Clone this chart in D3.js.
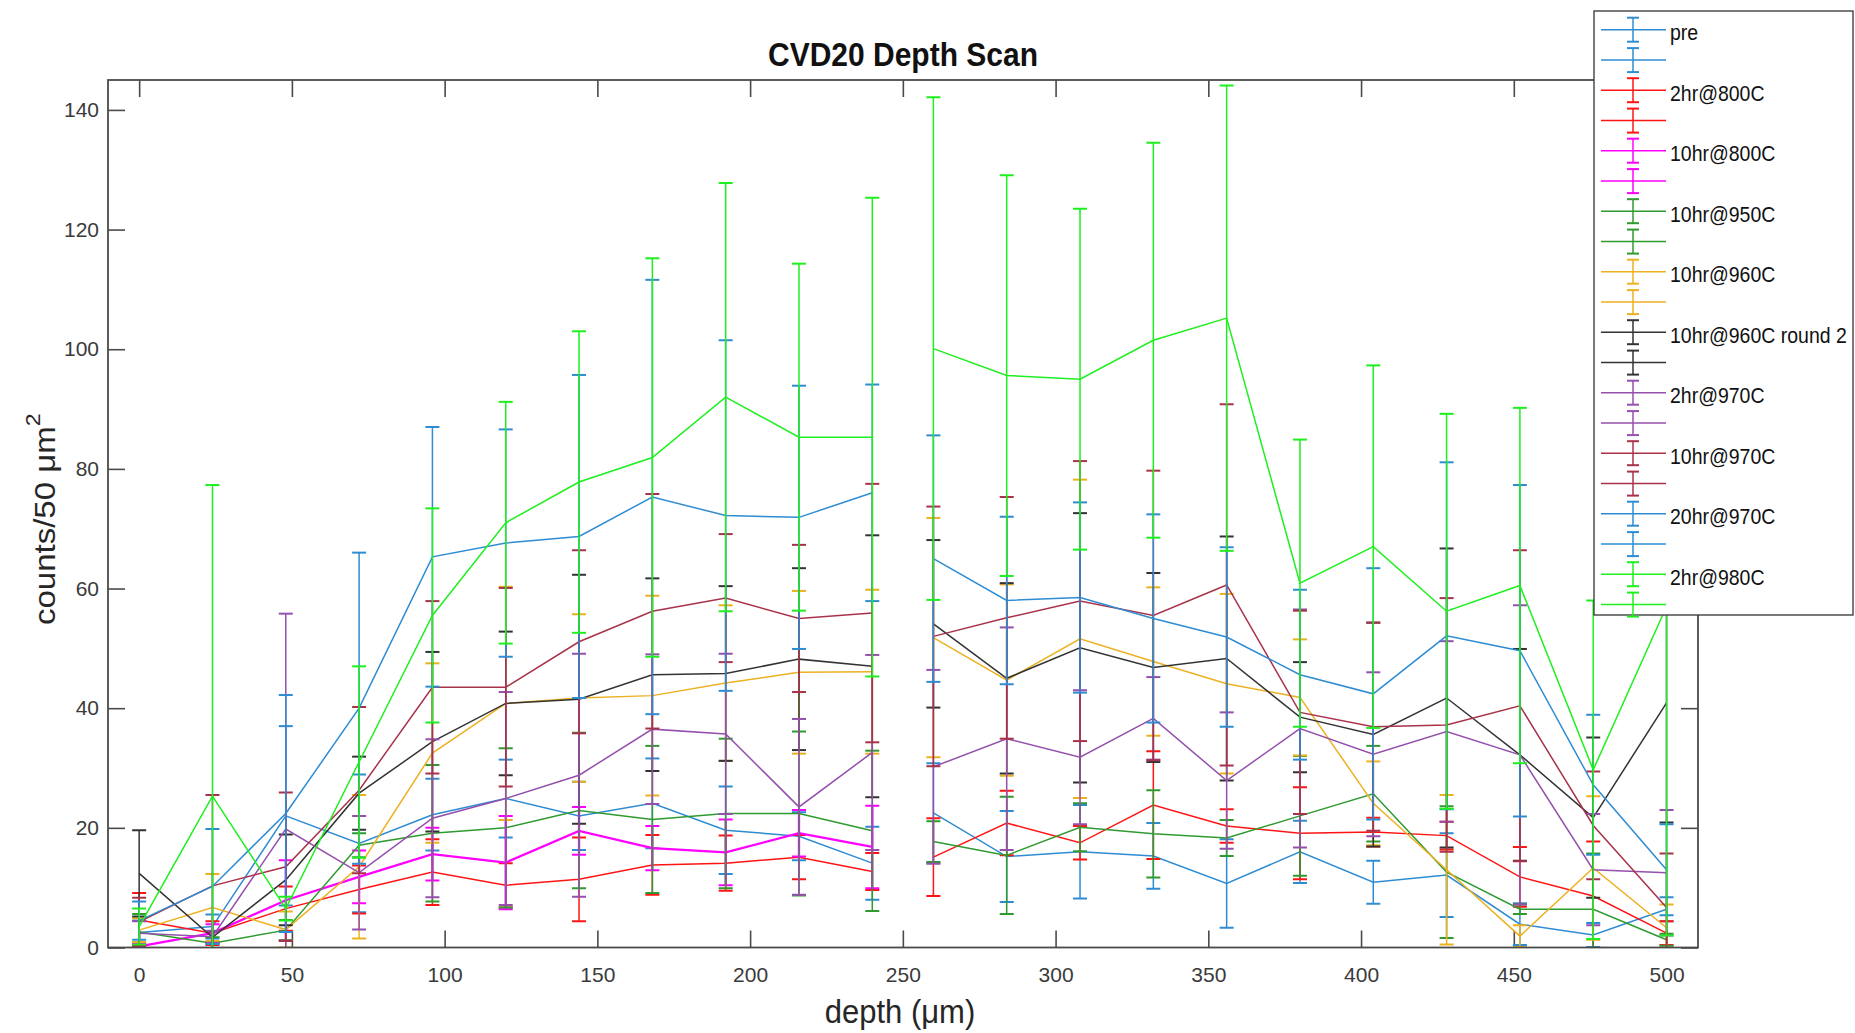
<!DOCTYPE html>
<html>
<head>
<meta charset="utf-8">
<script src="https://cdn.jsdelivr.net/npm/d3@7/dist/d3.min.js"></script>
<style>
  body { margin: 0; background: #fff; }
  svg { display: block; font-family: "Liberation Sans", Arial, sans-serif; }
</style>
</head>
<body>
<div class="chart"></div>
<script>
// depth positions (um); 250 is a gap (NaN in the source data)
var depth = [0, 24, 48, 72, 96, 120, 144, 168, 192, 216, 240, 250, 260, 284, 308, 332, 356, 380, 404, 428, 452, 476, 500];

var seriesNames = ["pre", "2hr@800C", "10hr@800C", "10hr@950C", "10hr@960C", "10hr@960C round 2",
  "2hr@970C", "10hr@970C", "20hr@970C", "2hr@980C"];
var seriesColors = ["#2e8cd3", "#ff1414", "#ff00ff", "#2f9a2f", "#edb120", "#333333",
  "#9450ac", "#a8324a", "#2e8cd3", "#1eef1e"];

var preMean = [2.5, 3.5, 22, 17.4, 22.2, 24.9, 22, 24.1, 19.6, 18.6, 14.1, null, 22.5, 15.2, 16, 15.3, 10.7, 16, 10.9, 12.1, 3.9, 2.1, 6.4];
var preErr = [2, 2, 15, 11.5, 6, 6.5, 5.7, 7.5, 7.3, 4, 6.1, null, 8.3, 7.6, 7.8, 5.5, 7.4, 5.2, 3.6, 7, 3.5, 2, 2];

var h2c800Mean = [4.6, 2.4, 6.5, 9.7, 12.6, 10.4, 11.4, 13.8, 14.1, 15.1, 12.7, null, 15.1, 20.8, 17.5, 23.8, 20.3, 19.1, 19.3, 18.7, 11.8, 8.6, 2.4];
var h2c800Err = [4.5, 2, 3.7, 4, 5.5, 3.7, 7, 5, 4.6, 3.7, 3.1, null, 6.5, 5.4, 2.8, 9, 2.8, 7.7, 2.4, 2.3, 5, 9.1, 2];

var h10c800Mean = [0.2, 2.4, 7.9, 11.8, 15.6, 14.2, 19.5, 16.6, 15.9, 19.1, 16.8, null, null, null, null, null, null, null, null, null, null, null, null];
var h10c800Err = [0.5, 1.5, 6.7, 4.4, 4.4, 7.8, 4, 3.7, 5.5, 3.9, 6.9, null, null, null, null, null, null, null, null, null, null, null, null];

var h10c950Mean = [2.6, 0.7, 2.9, 17.1, 19.1, 20, 22.9, 21.4, 22.4, 22.4, 19.5, null, 17.7, 15.4, 20.1, 19, 18.3, 22, 25.7, 12.6, 6.4, 6.4, 1.3];
var h10c950Err = [3, 1, 1.7, 2, 11.4, 13.3, 13, 12.3, 12.5, 13.7, 13.4, null, 3.4, 9.8, 4, 7.3, 3, 10, 8, 11, 0.8, 9.3, 1];

var h10c960Mean = [2.9, 6.7, 3, 13.5, 32.5, 40.8, 41.7, 42.1, 44.2, 46, 46.1, null, 51.8, 44.7, 51.6, 47.8, 44.1, 41.8, 24.1, 13, 1.9, 13.3, 3.3];
var h10c960Err = [2, 5.6, 3, 12, 15, 19.5, 14, 16.7, 13, 13.6, 13.7, null, 20, 16, 26.6, 12.4, 15, 9.7, 7, 12.5, 1.8, 12, 3.9];

var round2Mean = [12.4, 1.7, 11.3, 25.8, 34.4, 40.8, 41.5, 45.6, 45.8, 48.2, 47, null, 54.1, 45, 50.1, 46.8, 48.3, 38.5, 35.6, 41.7, 32.2, 21.7, 40.9];
var round2Err = [7.2, 1, 7.6, 6.1, 15, 12, 20.8, 16.1, 14.6, 15.2, 21.9, null, 14, 15.9, 22.5, 15.8, 20.4, 9.2, 18.7, 25, 17.7, 13.4, 20];

var h2c970Mean = [2.4, 1.8, 19.8, 12.5, 21.6, 24.9, 28.8, 36.5, 35.7, 23.5, 32.6, null, 30.2, 34.9, 31.8, 38.3, 27.9, 36.6, 32.3, 36.1, 32.2, 13, 12.5];
var h2c970Err = [2, 1, 36, 9.5, 13.2, 17.8, 20.3, 12.5, 13.4, 14.7, 16.3, null, 16.2, 18.6, 11.2, 6.9, 11.4, 19.9, 13.7, 15.1, 25, 9.3, 10.5];

var h10c970Mean = [4.3, 10.3, 13.5, 26.3, 43.5, 43.5, 51.1, 56.2, 58.4, 55, 55.9, null, 52, 55.1, 57.9, 55.5, 60.6, 39.3, 36.9, 37.2, 40.4, 20.4, 6.7];
var h10c970Err = [4, 15.2, 12.4, 13.9, 14.4, 16.6, 15.3, 19.6, 10.7, 12.3, 21.6, null, 21.7, 20.2, 23.4, 24.2, 30.2, 17, 17.4, 21.2, 26, 9, 9];

var h20c970Mean = [4.5, 10.2, 22.4, 40, 65.3, 67.6, 68.7, 75.3, 72.2, 71.9, 76, null, 65, 58, 58.5, 55, 51.9, 45.6, 42.4, 52.1, 49.6, 27.2, 13];
var h20c970Err = [3.2, 9.6, 19.8, 26, 21.7, 19, 27, 36.3, 29.3, 22, 18.1, null, 20.6, 14, 15.9, 17.4, 15, 14.2, 21, 29, 27.7, 11.7, 7.6];

var h2c980Mean = [3.5, 25.3, 6.5, 31, 55.5, 71, 77.8, 81.9, 92, 85.3, 85.3, null, 100.1, 95.6, 95, 101.5, 105.2, 60.9, 67, 56.2, 60.5, 29.7, 57];
var h2c980Err = [3, 52, 2, 16, 17.9, 20.2, 25.2, 33.3, 35.8, 29, 40, null, 42, 33.5, 28.5, 33, 38.9, 24, 30.3, 33, 29.7, 28.3, 55];

var xTicks = [0, 50, 100, 150, 200, 250, 300, 350, 400, 450, 500];
var yTicks = [0, 20, 40, 60, 80, 100, 120, 140];

var means = [preMean, h2c800Mean, h10c800Mean, h10c950Mean, h10c960Mean, round2Mean, h2c970Mean, h10c970Mean, h20c970Mean, h2c980Mean];
var errs = [preErr, h2c800Err, h10c800Err, h10c950Err, h10c960Err, round2Err, h2c970Err, h10c970Err, h20c970Err, h2c980Err];

var svgWidth = 1855;
var svgHeight = 1033;
var plot = { left: 108, right: 1698, top: 80, bottom: 947.5 };

var svg = d3.select(".chart")
  .append("svg")
  .attr("width", svgWidth)
  .attr("height", svgHeight);

var x = d3.scaleLinear().domain([-10.2, 510.3]).range([plot.left, plot.right]);
var y = d3.scaleLinear().domain([0, 145]).range([plot.bottom, plot.top]);

svg.append("defs").append("clipPath").attr("id", "clip")
  .append("rect")
  .attr("x", plot.left).attr("y", plot.top)
  .attr("width", plot.right - plot.left).attr("height", plot.bottom - plot.top);

// axes (ticks pointing inward, MATLAB box style)
var tickCol = "#4a4a4a";
function styleAxis(g, showLabels) {
  g.select(".domain").remove();
  g.selectAll(".tick line").attr("stroke", tickCol).attr("stroke-width", 1.6);
  g.selectAll(".tick text")
    .attr("fill", "#3a3a3a")
    .style("font-size", "21px")
    .style("font-family", "'Liberation Sans', Arial, sans-serif");
  if (!showLabels) g.selectAll(".tick text").remove();
}

svg.append("g")
  .attr("transform", `translate(0, ${plot.bottom})`)
  .call(d3.axisBottom(x).tickValues(xTicks).tickSizeInner(-17).tickSizeOuter(0).tickPadding(20))
  .call(g => styleAxis(g, true));

svg.append("g")
  .attr("transform", `translate(0, ${plot.top})`)
  .call(d3.axisTop(x).tickValues(xTicks).tickSizeInner(-17).tickSizeOuter(0))
  .call(g => styleAxis(g, false));

svg.append("g")
  .attr("transform", `translate(${plot.left}, 0)`)
  .call(d3.axisLeft(y).tickValues(yTicks).tickSizeInner(-17).tickSizeOuter(0).tickPadding(9))
  .call(g => styleAxis(g, true));

svg.append("g")
  .attr("transform", `translate(${plot.right}, 0)`)
  .call(d3.axisRight(y).tickValues(yTicks).tickSizeInner(-17).tickSizeOuter(0))
  .call(g => styleAxis(g, false));

// data
var chartGroup = svg.append("g").attr("clip-path", "url(#clip)");
var capHalf = 7;

means.forEach(function(m, s) {
  var pts = depth.map(function(d, i) { return { x: d, m: m[i], e: errs[s][i] }; });
  var color = seriesColors[s];
  var lw = s === 2 ? 2.3 : 1.5;
  var g = chartGroup.append("g");

  var line = d3.line()
    .defined(d => d.m != null)
    .x(d => x(d.x))
    .y(d => y(d.m));

  g.append("path")
    .datum(pts)
    .attr("d", line)
    .attr("fill", "none")
    .attr("stroke", color)
    .attr("stroke-width", lw);

  var bars = g.selectAll(".eb")
    .data(pts.filter(d => d.m != null))
    .enter()
    .append("g");

  bars.append("line")
    .attr("x1", d => x(d.x)).attr("x2", d => x(d.x))
    .attr("y1", d => y(d.m - d.e)).attr("y2", d => y(d.m + d.e))
    .attr("stroke", color).attr("stroke-width", lw);

  bars.append("line")
    .attr("x1", d => x(d.x) - capHalf).attr("x2", d => x(d.x) + capHalf)
    .attr("y1", d => y(d.m + d.e)).attr("y2", d => y(d.m + d.e))
    .attr("stroke", color).attr("stroke-width", 2);

  bars.append("line")
    .attr("x1", d => x(d.x) - capHalf).attr("x2", d => x(d.x) + capHalf)
    .attr("y1", d => y(d.m - d.e)).attr("y2", d => y(d.m - d.e))
    .attr("stroke", color).attr("stroke-width", 2);
});

// box
svg.append("rect")
  .attr("x", plot.left).attr("y", plot.top)
  .attr("width", plot.right - plot.left).attr("height", plot.bottom - plot.top)
  .attr("fill", "none")
  .attr("stroke", tickCol)
  .attr("stroke-width", 1.8);

// title and labels (source is slightly stretched vertically)
svg.append("text")
  .attr("transform", `translate(${(plot.left + plot.right) / 2}, 66) scale(1, 1.1)`)
  .attr("text-anchor", "middle")
  .style("font-size", "30px")
  .style("font-weight", "bold")
  .attr("fill", "#111")
  .text("CVD20 Depth Scan");

svg.append("text")
  .attr("transform", "translate(900, 1023) scale(1, 1.08)")
  .attr("text-anchor", "middle")
  .style("font-size", "31px")
  .attr("fill", "#262626")
  .text("depth (\u03bcm)");

var yLabel = svg.append("text")
  .attr("transform", "translate(55, 625) rotate(-90) scale(1.1, 1)")
  .attr("text-anchor", "start")
  .style("font-size", "30px")
  .attr("fill", "#262626");
yLabel.append("tspan").text("counts/50 \u03bcm");
yLabel.append("tspan").attr("dy", -15).style("font-size", "21px").text("2");

// legend
var legend = svg.append("g");
legend.append("rect")
  .attr("x", 1594).attr("y", 11)
  .attr("width", 259).attr("height", 604)
  .attr("fill", "#fff")
  .attr("stroke", "#333")
  .attr("stroke-width", 1.3);

var items = legend.selectAll(".item")
  .data(seriesNames)
  .enter()
  .append("g")
  .attr("transform", (d, i) => `translate(0, ${29.7 + 60.5 * i})`);

[0, 30.4].forEach(function(off) {
  var icon = items.append("g").attr("transform", `translate(0, ${off})`);
  icon.append("line")
    .attr("x1", 1601).attr("x2", 1666).attr("y1", 0).attr("y2", 0)
    .attr("stroke", (d, i) => seriesColors[i]).attr("stroke-width", 1.5);
  icon.append("line")
    .attr("x1", 1633).attr("x2", 1633).attr("y1", -12).attr("y2", 12)
    .attr("stroke", (d, i) => seriesColors[i]).attr("stroke-width", 1.5);
  [-12, 12].forEach(function(cy) {
    icon.append("line")
      .attr("x1", 1627).attr("x2", 1639).attr("y1", cy).attr("y2", cy)
      .attr("stroke", (d, i) => seriesColors[i]).attr("stroke-width", 2);
  });
});

items.append("text")
  .attr("transform", "translate(1670, 10.5) scale(1, 1.1)")
  .style("font-size", "19.5px")
  .attr("fill", "#111")
  .text(d => d);
</script>
</body>
</html>
